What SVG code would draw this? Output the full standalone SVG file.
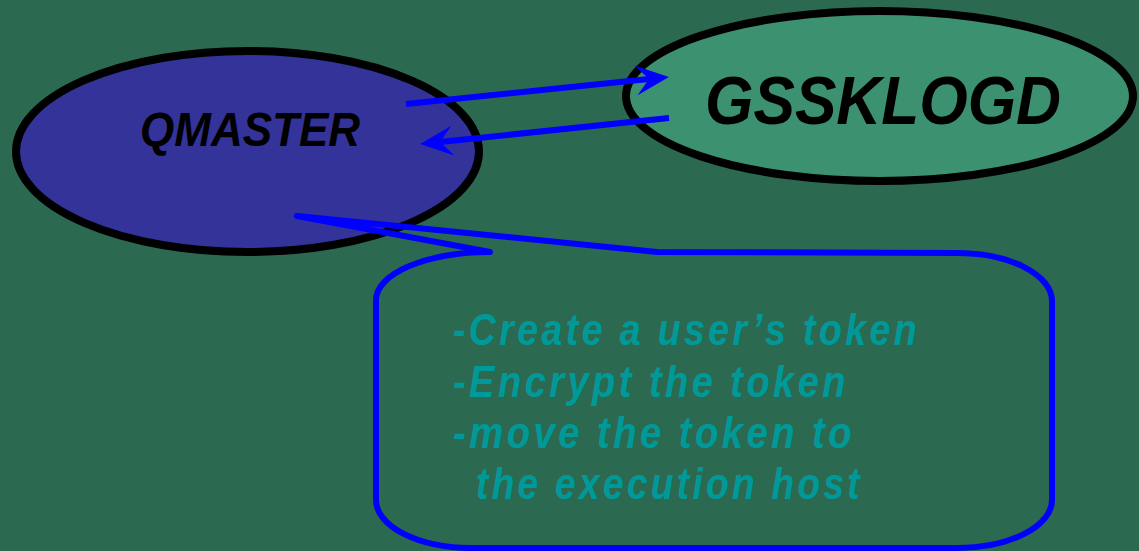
<svg xmlns="http://www.w3.org/2000/svg" width="1139" height="551" viewBox="0 0 1139 551">
  <style>
    .node { stroke: #000000; stroke-width: 8; }
    .label { font-family: "Liberation Sans", Arial, sans-serif; font-style: italic; font-weight: bold; fill: #000000; }
    .conn { stroke: #0000FF; stroke-width: 6; fill: none; }
    .note { font-family: "Liberation Sans", Arial, sans-serif; font-style: italic; font-weight: bold; font-size: 45px; letter-spacing: 4px; fill: #009999; }
  </style>
  <defs>
    <marker id="stealth" viewBox="-16 -18 40 36" markerWidth="40" markerHeight="36" refX="0" refY="0" orient="auto" markerUnits="userSpaceOnUse">
      <path d="M20,0 L-13,-15 L0,0 L-13,15 Z" fill="#0000FF"/>
    </marker>
  </defs>
  <rect x="0" y="0" width="1139" height="551" fill="#2B6A50"/>

  <g id="qmaster">
    <ellipse class="node" cx="247.5" cy="151.5" rx="231.5" ry="100.5" fill="#333399"/>
    <text class="label" x="140" y="146" font-size="48" textLength="220" lengthAdjust="spacingAndGlyphs">QMASTER</text>
  </g>

  <g id="gssklogd">
    <ellipse class="node" cx="879.5" cy="96" rx="253.5" ry="85" fill="#3B9170"/>
    <text class="label" x="705" y="124" font-size="68" textLength="356" lengthAdjust="spacingAndGlyphs">GSSKLOGD</text>
  </g>

  <g id="connectors">
    <line class="conn" x1="406" y1="104" x2="649" y2="79" marker-end="url(#stealth)"/>
    <line class="conn" x1="669" y1="118" x2="440" y2="142" marker-end="url(#stealth)"/>
  </g>

  <g id="callout">
    <path class="conn" stroke-width="5" stroke-linejoin="round" d="M490,252 L297,216 L657,252 L957,253 A95,48 0 0 1 1052,301 L1052,500 A95,48 0 0 1 957,548 L471,548 A95,48 0 0 1 376,500 L376,300 A114,48 0 0 1 490,252 Z"/>
    <text class="note" x="453" y="345" textLength="467" lengthAdjust="spacingAndGlyphs">-Create a user’s token</text>
    <text class="note" x="453" y="397" textLength="396" lengthAdjust="spacingAndGlyphs">-Encrypt the token</text>
    <text class="note" x="453" y="448" textLength="402" lengthAdjust="spacingAndGlyphs">-move the token to</text>
    <text class="note" x="476" y="499" textLength="387" lengthAdjust="spacingAndGlyphs">the execution host</text>
  </g>
</svg>
